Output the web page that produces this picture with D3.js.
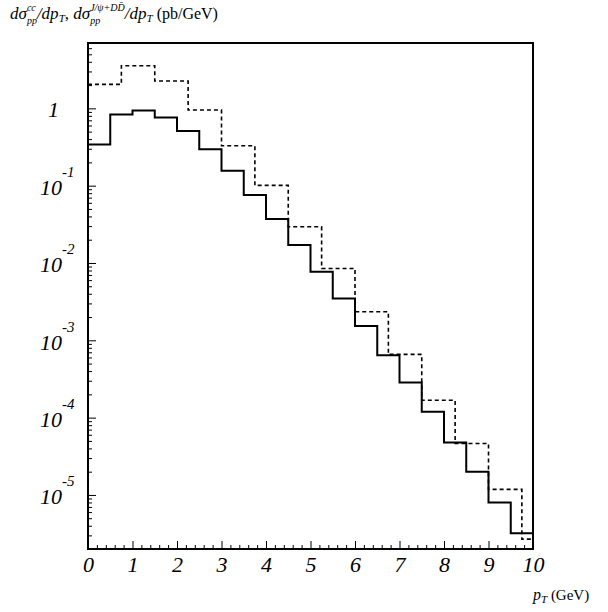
<!DOCTYPE html>
<html>
<head>
<meta charset="utf-8">
<script src="https://cdn.jsdelivr.net/npm/d3@7"></script>
<style>
  body { margin: 0; background: #fff; }
  svg { display: block; }
</style>
</head>
<body>
<script>

// pT bin edges (GeV) and contents (pb/GeV)
const solidEdges = [0, 0.5, 1, 1.5, 2, 2.5, 3, 3.5, 4, 4.5, 5, 5.5, 6, 6.5, 7, 7.5, 8, 8.5, 9, 9.5, 10];
const solidVals = [0.34, 0.83, 0.94, 0.76, 0.51, 0.296, 0.156, 0.0756, 0.037, 0.0171,
    0.00769, 0.00348, 0.00153, 6.43e-4, 2.85e-4, 1.19e-4, 4.78e-5, 1.99e-5, 8.0e-6, 3.2e-6];

const dashedEdges = [0, 0.75, 1.5, 2.25, 3, 3.75, 4.5, 5.25, 6, 6.75, 7.5, 8.25, 9, 9.75, 10];
const dashedVals = [2.04, 3.56, 2.26, 0.95, 0.328, 0.101, 0.0294, 0.0085, 0.00234,
    6.57e-4, 1.68e-4, 4.63e-5, 1.18e-5, 2.68e-6];

// axis ticks
const xMajor = [0, 1, 2, 3, 4, 5, 6, 7, 8, 9, 10];
const xLabels = ["0", "1", "2", "3", "4", "5", "6", "7", "8", "9", "10"];
const yDecades = [1, 1e-1, 1e-2, 1e-3, 1e-4, 1e-5];
const yExponents = ["", "-1", "-2", "-3", "-4", "-5"];

const width = 608;
const height = 612;
const marginTop = 43;
const marginRight = 75;
const marginBottom = 63;
const marginLeft = 88;
const serif = "'Liberation Serif', 'Times New Roman', serif";

const svg = d3.select("body").append("svg")
    .attr("width", width)
    .attr("height", height)
    .attr("viewBox", [0, 0, width, height]);

const x = d3.scaleLinear([0, 10], [marginLeft, width - marginRight]);
const y = d3.scaleLog([2e-6, 7], [height - marginBottom, marginTop]);

// minor ticks
const xMinor = d3.range(0, 50).map(i => i * 0.2).filter(v => v % 1 > 0.01 && v % 1 < 0.99);
const yMinor = [];
for (let e = -6; e <= 0; e++) {
    for (let k = 2; k <= 9; k++) {
        const v = k * Math.pow(10, e);
        if (v >= 2e-6 && v <= 7) yMinor.push(v);
    }
}

// x axis (ticks point inward)
svg.append("g")
    .attr("transform", `translate(0,${height - marginBottom})`)
    .call(d3.axisBottom(x).tickValues(xMinor).tickSizeInner(-4).tickSizeOuter(0).tickFormat(""))
    .call(g => g.select(".domain").remove());

svg.append("g")
    .attr("transform", `translate(0,${height - marginBottom})`)
    .call(d3.axisBottom(x).tickValues(xMajor).tickSizeInner(-8).tickSizeOuter(0)
        .tickPadding(7).tickFormat((d, i) => xLabels[i]))
    .call(g => g.select(".domain").remove())
    .call(g => g.selectAll(".tick text")
        .attr("font-family", serif)
        .attr("font-style", "italic")
        .attr("font-size", 22)
        .attr("fill", "#000"));

// y axis
svg.append("g")
    .attr("transform", `translate(${marginLeft},0)`)
    .call(d3.axisLeft(y).tickValues(yMinor).tickSizeInner(-4).tickSizeOuter(0).tickFormat(""))
    .call(g => g.select(".domain").remove());

svg.append("g")
    .attr("transform", `translate(${marginLeft},0)`)
    .call(d3.axisLeft(y).tickValues(yDecades).tickSizeInner(-8).tickSizeOuter(0).tickFormat(""))
    .call(g => g.select(".domain").remove())
    .call(g => g.selectAll(".tick").each(function(d, i) {
        const t = d3.select(this);
        if (yExponents[i] === "") {
            t.append("text")
                .attr("x", -29).attr("y", 8)
                .attr("text-anchor", "end")
                .attr("font-family", serif).attr("font-style", "italic")
                .attr("font-size", 22).attr("fill", "#000")
                .text("1");
        } else {
            t.append("text")
                .attr("x", -26).attr("y", 9)
                .attr("text-anchor", "end")
                .attr("font-family", serif).attr("font-style", "italic")
                .attr("font-size", 22).attr("fill", "#000")
                .text("10");
            t.append("text")
                .attr("x", -26).attr("y", -9)
                .attr("text-anchor", "start")
                .attr("font-family", serif).attr("font-style", "italic")
                .attr("font-size", 15).attr("fill", "#000")
                .text(yExponents[i]);
        }
    }));

// histograms as step lines
const step = d3.line()
    .x(d => x(d[0]))
    .y(d => y(d[1]))
    .curve(d3.curveStepAfter);

function histPoints(edges, vals) {
    const pts = vals.map((v, i) => [edges[i], v]);
    pts.push([edges[edges.length - 1], vals[vals.length - 1]]);
    return pts;
}

svg.append("path")
    .attr("fill", "none")
    .attr("stroke", "#000")
    .attr("stroke-width", 1.6)
    .attr("stroke-dasharray", "4,3")
    .attr("d", step(histPoints(dashedEdges, dashedVals)));

svg.append("path")
    .attr("fill", "none")
    .attr("stroke", "#000")
    .attr("stroke-width", 2)
    .attr("d", step(histPoints(solidEdges, solidVals)));

// frame
svg.append("rect")
    .attr("x", marginLeft)
    .attr("y", marginTop)
    .attr("width", width - marginLeft - marginRight)
    .attr("height", height - marginTop - marginBottom)
    .attr("fill", "none")
    .attr("stroke", "#000")
    .attr("stroke-width", 2);

// math-ish label: pieces laid out left to right, sub/sup pairs stacked
function drawMath(x0, y0, parts) {
    const g = svg.append("g");
    let cx = x0;
    let lastX = x0, lastW = 0;
    parts.forEach(p => {
        const px = p.stack ? lastX : cx;
        const t = g.append("text")
            .attr("x", px)
            .attr("y", y0 + (p.shift || 0))
            .attr("font-family", serif)
            .attr("font-style", p.italic ? "italic" : "normal")
            .attr("font-size", p.size)
            .attr("fill", "#000")
            .style("white-space", "pre")
            .text(p.text);
        const w = t.node().getComputedTextLength();
        if (p.stack) {
            cx = px + Math.max(w, lastW);
        } else {
            lastX = px;
            cx = px + w;
        }
        lastW = w;
    });
}

drawMath(10, 19, [
    {text: "dσ", size: 17, italic: true},
    {text: "cc", size: 10, italic: true, shift: -8},
    {text: "pp", size: 10, italic: true, shift: 5, stack: true},
    {text: "/dp", size: 17, italic: true},
    {text: "T", size: 11, italic: true, shift: 3},
    {text: ", ", size: 17},
    {text: "dσ", size: 17, italic: true},
    {text: "J/ψ+DD\u0304", size: 10, italic: true, shift: -8},
    {text: "pp", size: 10, italic: true, shift: 5, stack: true},
    {text: "/dp", size: 17, italic: true},
    {text: "T", size: 11, italic: true, shift: 3},
    {text: " (pb/GeV)", size: 16}
]);

drawMath(533, 600, [
    {text: "p", size: 16, italic: true},
    {text: "T", size: 11, italic: true, shift: 3},
    {text: " (GeV)", size: 15}
]);

</script>
</body>
</html>
